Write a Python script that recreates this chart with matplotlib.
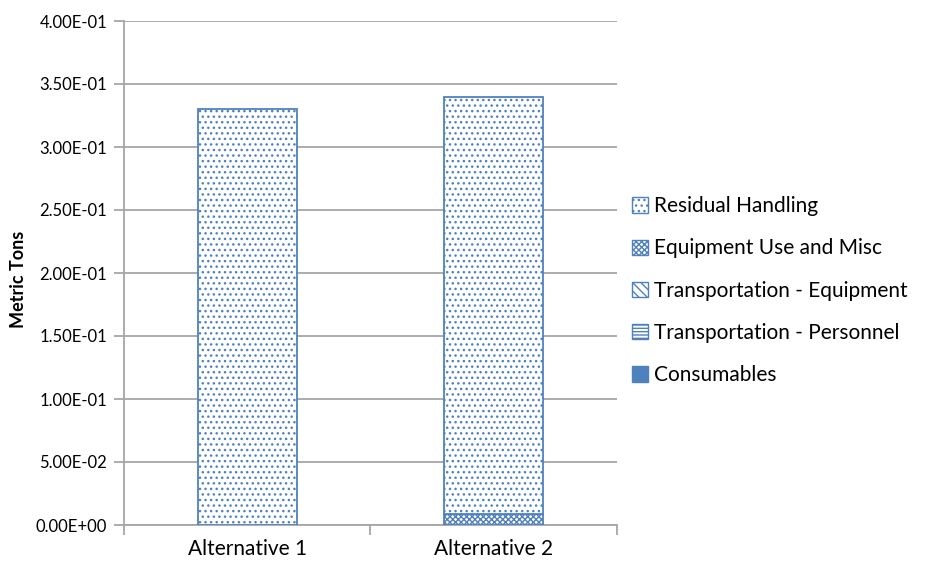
import matplotlib
matplotlib.use("Agg")
import matplotlib.pyplot as plt
from matplotlib.patches import Patch
from matplotlib.ticker import FuncFormatter, FixedLocator
import numpy as np

plt.rcParams['font.family'] = ['Lato', 'DejaVu Sans']
plt.rcParams['hatch.color'] = '#4F81BD'
plt.rcParams['hatch.linewidth'] = 1.0

categories = ["Alternative 1", "Alternative 2"]
series_names = ["Consumables", "Transportation - Personnel", "Transportation - Equipment",
                "Equipment Use and Misc", "Residual Handling"]
consumables = [0.0, 0.0]
transport_personnel = [0.0, 0.0]
transport_equipment = [0.0, 0.0]
equipment_use = [0.0, 0.009]
residual_handling = [0.330, 0.331]
y_ticks = [0.0, 0.05, 0.10, 0.15, 0.20, 0.25, 0.30, 0.35, 0.40]

blue = '#4F81BD'
series = [consumables, transport_personnel, transport_equipment, equipment_use, residual_handling]
hatches = [None, '-----', '\\\\\\\\', 'xxxxxx', '...']
faces = [blue, 'white', 'white', 'white', 'white']

fig = plt.figure(figsize=(9.31, 5.64), dpi=100)
ax = fig.add_axes([124 / 931, 1 - 525 / 564, (617 - 124) / 931, (525 - 21) / 564])

x = np.arange(len(categories))
bottom = np.zeros(len(categories))
handles = {}
for name, vals, h, fc in zip(series_names, series, hatches, faces):
    vals = np.array(vals)
    ax.bar(x, vals, width=0.4, bottom=bottom, color=fc, edgecolor=blue,
           hatch=h, linewidth=1.3, zorder=3)
    handles[name] = Patch(facecolor=fc, edgecolor=blue, hatch=h, linewidth=1.0)
    bottom += vals

ax.set_xlim(-0.5, 1.5)
ax.set_ylim(0, 0.4)
ax.set_yticks(y_ticks)
ax.yaxis.set_major_formatter(FuncFormatter(
    lambda v, p: "0.00E+00" if v == 0 else f"{v:.2E}"))
ax.grid(axis='y', color='#A6A6A6', linewidth=1.3, zorder=0)
ax.tick_params(axis='y', length=7, width=1.3, color='#A6A6A6', labelsize=12, pad=5)

ax.set_xticks(x)
ax.set_xticklabels(categories, fontsize=15)
ax.tick_params(axis='x', which='major', length=0, pad=10)
ax.xaxis.set_minor_locator(FixedLocator([-0.5, 0.5, 1.5]))
ax.tick_params(axis='x', which='minor', length=7, width=1.3, color='#A6A6A6')

for s in ['top', 'right']:
    ax.spines[s].set_visible(False)
for s in ['left', 'bottom']:
    ax.spines[s].set_color('#A6A6A6')
    ax.spines[s].set_linewidth(1.3)

fig.text(19 / 931, 1 - 279 / 564, "Metric Tons", rotation=90, ha='center', va='center',
         fontsize=13, fontweight='bold')

order = ["Residual Handling", "Equipment Use and Misc", "Transportation - Equipment",
         "Transportation - Personnel", "Consumables"]
fig.legend([handles[n] for n in order], order, loc='upper left',
           bbox_to_anchor=(628 / 931, 1 - 192 / 564), frameon=False, fontsize=15,
           handlelength=0.75, handleheight=0.75, handletextpad=0.3, labelspacing=1.07,
           borderaxespad=0, borderpad=0.2)

fig.savefig("out.png", dpi=100)
